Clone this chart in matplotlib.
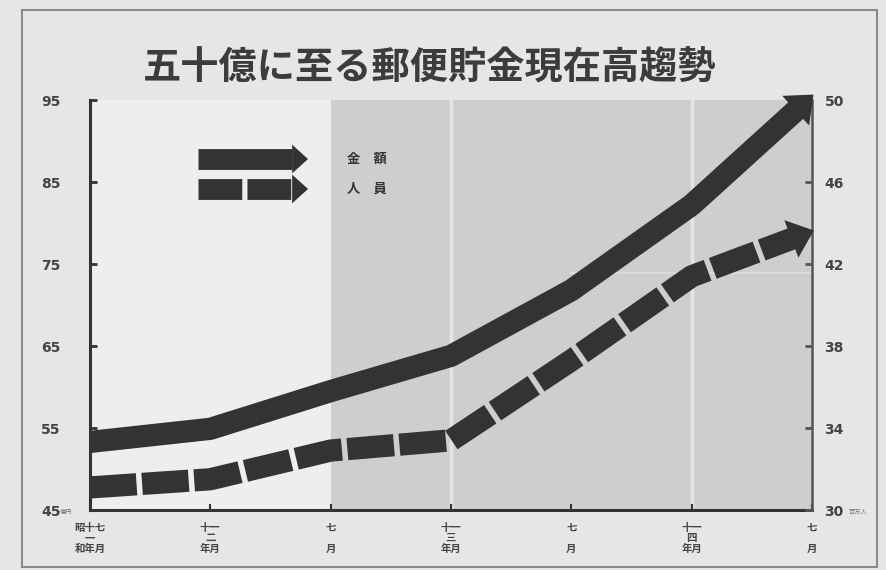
import numpy as np
import matplotlib as mpl
mpl.use('Agg')
import matplotlib.pyplot as plt
from matplotlib.patches import Polygon
from matplotlib.transforms import IdentityTransform

plt.rcParams['font.family'] = ['Noto Sans CJK JP', 'DejaVu Sans']

# Data
x_pos = [0, 1, 2, 3, 4, 5, 6]
x_labels = ['昭十七\n一\n和年月', '十一\n二\n年月', '七\n\n月', '十一\n三\n年月',
            '七\n\n月', '十一\n四\n年月', '七\n\n月']
amount = [53.3, 54.9, 59.5, 63.8, 71.8, 82.2, 95.5]      # 金額 (left axis)
persons = [31.1, 31.5, 32.9, 33.4, 37.3, 41.4, 43.6]     # 人員 (right axis)
left_ticks = [45, 55, 65, 75, 85, 95]
right_ticks = [30, 34, 38, 42, 46, 50]

title = '五十億に至る郵便貯金現在高趨勢'

ink = '#333333'
txt = '#444444'

fig = plt.figure(figsize=(8.87, 5.70), dpi=100)
fig.patch.set_facecolor('#e6e6e6')

ax = fig.add_axes([90 / 887, 1 - 510 / 570, 722 / 887, 410 / 570])
ax.set_facecolor('#eeeeee')
ax.set_xlim(0, 6)
ax.set_ylim(45, 95)
ax2 = ax.twinx()
ax2.set_ylim(30, 50)

# shaded area and faint white guide lines
ax.axvspan(2, 6, color='#cecece', zorder=0, lw=0)
for xv in [3, 5]:
    ax.axvline(xv, color='#e4e4e4', lw=2.5, zorder=0.5)
ax.axhline(73.9, xmin=4 / 6, xmax=1, color='#dcdcdc', lw=1.5, zorder=0.5)


def arrow_line(axis, xs, ys, lw, dashes=None, half_w=20, length=24, over=2):
    # shorten the last segment so the head sits at the end of the curve
    p0 = axis.transData.transform((xs[-2], ys[-2]))
    p1 = axis.transData.transform((xs[-1], ys[-1]))
    d = (p1 - p0) / np.hypot(*(p1 - p0))
    n = np.array([-d[1], d[0]])
    tip = p1 + d * over
    base = tip - d * length
    end = axis.transData.inverted().transform(base + d * 2)
    xd = list(xs[:-1]) + [end[0]]
    yd = list(ys[:-1]) + [end[1]]
    if dashes is None:
        axis.plot(xd, yd, color=ink, lw=lw, solid_capstyle='butt',
                  solid_joinstyle='round', zorder=3)
    else:
        axis.plot(xd, yd, color=ink, lw=lw, dashes=dashes,
                  dash_capstyle='butt', dash_joinstyle='round', zorder=3)
    tri = Polygon([base + n * half_w, tip, base - n * half_w], closed=True,
                  transform=IdentityTransform(), facecolor=ink, edgecolor='none',
                  zorder=4)
    fig.patches.append(tri)


lw = 16
arrow_line(ax, x_pos, amount, lw)
arrow_line(ax2, x_pos, persons, lw, dashes=(2.1, 0.25))

# spines
ax.spines['top'].set_visible(False)
ax2.spines['top'].set_visible(False)
ax.spines['left'].set_linewidth(2.2)
ax.spines['left'].set_color(ink)
ax.spines['bottom'].set_linewidth(2.2)
ax.spines['bottom'].set_color(ink)
ax.spines['right'].set_visible(False)
ax2.spines['left'].set_visible(False)
ax2.spines['bottom'].set_visible(False)
ax2.spines['right'].set_linewidth(1.8)
ax2.spines['right'].set_color('#555555')

# ticks
ax.set_yticks(left_ticks)
ax.set_yticklabels([str(v) for v in left_ticks])
ax.tick_params(axis='y', direction='in', length=5, width=2, color=ink, pad=21,
               labelsize=10, labelcolor=txt)
ax2.set_yticks(right_ticks)
ax2.set_yticklabels([str(v) for v in right_ticks])
ax2.tick_params(axis='y', direction='in', length=5, width=2, color='#555555', pad=9,
                labelsize=10, labelcolor=txt)
for lab in ax.get_yticklabels() + ax2.get_yticklabels():
    lab.set_fontweight('bold')
    lab.set_family(['DejaVu Sans Condensed', 'DejaVu Sans'])

ax.set_xticks(x_pos)
ax.set_xticklabels(x_labels, fontsize=7.5, fontweight='bold', color=txt,
                   linespacing=1.1, va='top')
ax.tick_params(axis='x', direction='in', length=4, width=1.5, color=ink, pad=9)

# units
fig.text(66 / 887, 1 - 512 / 570, '億円', fontsize=4.5, color='#777777',
         ha='center', va='center')
fig.text(858 / 887, 1 - 512 / 570, '百万人', fontsize=4.5, color='#777777',
         ha='center', va='center')

# legend
leg_x0, leg_x1 = 0.149, 0.28
for ly, style in [(0.856, 'solid'), (0.783, 'dash')]:
    if style == 'solid':
        ax.plot([leg_x0, leg_x1], [ly, ly], transform=ax.transAxes, color=ink,
                lw=15, solid_capstyle='butt', zorder=3)
    else:
        ax.plot([leg_x0, leg_x1], [ly, ly], transform=ax.transAxes, color=ink,
                lw=15, dashes=(2.1, 0.25), dash_capstyle='butt', zorder=3)
    ax.add_patch(Polygon([[leg_x1, ly + 0.035], [leg_x1 + 0.022, ly],
                          [leg_x1, ly - 0.035]], closed=True,
                         transform=ax.transAxes, facecolor=ink, edgecolor='none',
                         zorder=3))
ax.text(0.356, 0.856, '金　額', transform=ax.transAxes, fontsize=9.5,
        fontweight='bold', color=ink, va='center', ha='left')
ax.text(0.356, 0.783, '人　員', transform=ax.transAxes, fontsize=9.5,
        fontweight='bold', color=ink, va='center', ha='left')

# title
fig.text(0.485, 0.881, title, fontsize=27.5, fontweight='bold', color='#3c3c3c',
         ha='center', va='center')

# outer frame of the printed chart
frame_kw = dict(color='#8a8a8a', lw=1.5, transform=fig.transFigure)
fig.add_artist(plt.Line2D([22 / 887, 877 / 887], [1 - 10 / 570, 1 - 10 / 570], **frame_kw))
fig.add_artist(plt.Line2D([22 / 887, 877 / 887], [1 - 567 / 570, 1 - 567 / 570], **frame_kw))
fig.add_artist(plt.Line2D([22 / 887, 22 / 887], [1 - 10 / 570, 1 - 567 / 570], **frame_kw))
fig.add_artist(plt.Line2D([877 / 887, 877 / 887], [1 - 10 / 570, 1 - 567 / 570], **frame_kw))

fig.savefig('out.png', dpi=100, facecolor=fig.get_facecolor())
